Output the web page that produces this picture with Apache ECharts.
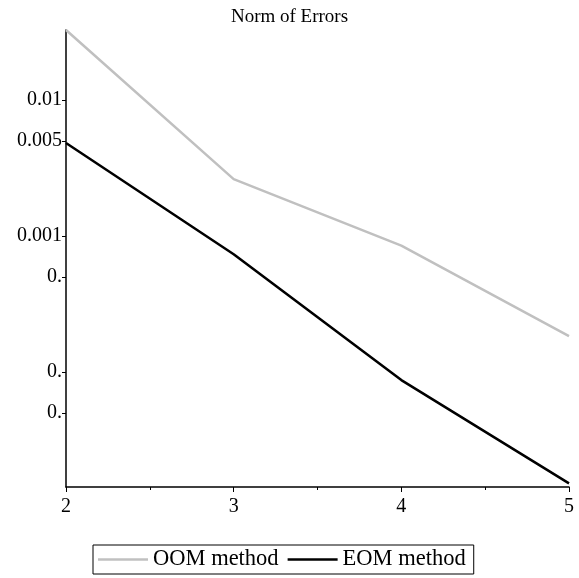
<!DOCTYPE html>
<html>
<head>
<meta charset="utf-8">
<script src="https://cdn.jsdelivr.net/npm/echarts@6/dist/echarts.min.js"></script>
<style>html,body{margin:0;padding:0;background:#fff;}#c{width:579px;height:578px;}</style>
</head>
<body>
<div id="c"></div>
<script>
var xValues = [2, 3, 4, 5];
var oomValues = [0.0327, 0.00262, 0.00085, 0.000184];
var eomValues = [0.00483, 0.000735, 0.0000873, 0.0000152];
var yTickValues = [0.01, 0.005, 0.001, 0.0005, 0.0001, 0.00005];
var yTickLabels = ['0.01', '0.005', '0.001', '0.', '0.', '0.'];
var xTickValues = [2, 3, 4, 5];
var yMin = 0.0000143, yMax = 0.0327;

var font = 'Liberation Serif';
function pairs(ys){ return xValues.map(function(x,i){ return [x, ys[i]]; }); }
function yLabel(v){
  var best = 0, bd = Infinity;
  for (var i = 0; i < yTickValues.length; i++) {
    var d = Math.abs(Math.log(v) - Math.log(yTickValues[i]));
    if (d < bd) { bd = d; best = i; }
  }
  return yTickLabels[best];
}
var chart = echarts.init(document.getElementById('c'), null, {renderer: 'canvas'});
chart.setOption({
  animation: false,
  backgroundColor: '#fff',
  title: {
    text: 'Norm of Errors', left: 'center', top: 3,
    textStyle: {fontFamily: font, fontSize: 19, fontWeight: 'normal', color: '#000'}
  },
  grid: {left: 66, right: 10, top: 30, bottom: 91, containLabel: false},
  legend: {
    left: 93, top: 545, padding: [3, 8, 3, 5], itemGap: 9,
    itemWidth: 50, itemHeight: 2.5, icon: 'rect',
    borderColor: '#000', borderWidth: 1,
    textStyle: {fontFamily: font, fontSize: 22.5, color: '#000'},
    data: ['OOM method', 'EOM method']
  },
  xAxis: {
    type: 'value', min: 2, max: 5, interval: 1,
    axisLine: {show: true, onZero: false, lineStyle: {color: '#000', width: 1.5}},
    axisTick: {show: true, inside: false, length: 5, lineStyle: {color: '#000'}, customValues: xTickValues},
    minorTick: {show: true, splitNumber: 2, length: 3, lineStyle: {color: '#000'}},
    axisLabel: {fontFamily: font, fontSize: 20, color: '#000', margin: 10, customValues: xTickValues},
    splitLine: {show: false}
  },
  yAxis: {
    type: 'log', logBase: 10, min: yMin, max: yMax,
    axisLine: {show: true, lineStyle: {color: '#000', width: 1.5}},
    axisTick: {show: true, inside: false, length: 4, lineStyle: {color: '#000', width: 1}, customValues: yTickValues},
    axisLabel: {fontFamily: font, fontSize: 20, color: '#000', margin: 4, customValues: yTickValues,
      formatter: function(v){ return yLabel(v); }},
    splitLine: {show: false},
    minorTick: {show: false}
  },
  series: [
    {name: 'OOM method', type: 'line', data: pairs(oomValues), showSymbol: false, symbol: 'none',
     lineStyle: {color: '#c0c0c0', width: 2.5}, itemStyle: {color: '#c0c0c0'}},
    {name: 'EOM method', type: 'line', data: pairs(eomValues), showSymbol: false, symbol: 'none',
     lineStyle: {color: '#000', width: 2.5}, itemStyle: {color: '#000'}}
  ]
});
</script>
</body>
</html>
